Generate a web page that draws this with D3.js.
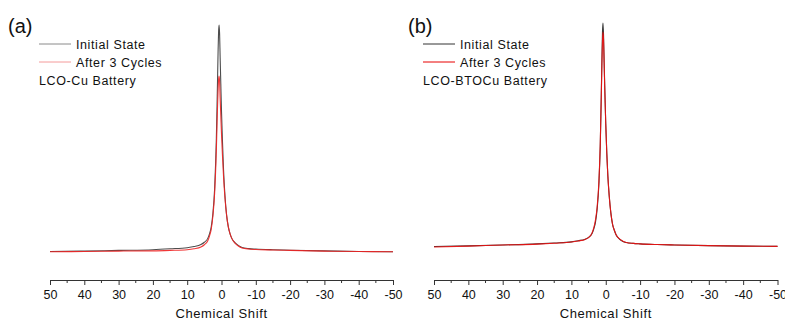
<!DOCTYPE html>
<html>
<head>
<meta charset="utf-8">
<script src="https://cdn.jsdelivr.net/npm/d3@7"></script>
<style>
  body { margin: 0; background: #fff; }
  svg text { font-family: "Liberation Sans", Arial, sans-serif; fill: #111; }
</style>
</head>
<body>
<div id="chart"></div>
<script>
// chemical shift (ppm) sample positions and intensities (arbitrary units, initial peak = 100)
const shiftA = [50, 40, 30, 20, 15, 10, 8, 6, 5, 4, 3.5, 3, 2.5, 2, 1.5, 1.2, 1.0, 0.85, 0.7, 0.55, 0.4, 0.2, 0, -0.3, -0.6, -1, -1.5, -2, -2.5, -3, -4, -5, -6, -8, -10, -15, -20, -30, -40, -50];
const initialA = [0.2, 0.4, 0.7, 1.0, 1.4, 1.9, 2.4, 3.3, 4.3, 6, 8, 11, 17, 28, 50, 72, 88, 97, 100, 96, 86, 74, 62, 48, 36, 25, 16, 11, 8, 6, 4, 2.8, 2.0, 1.5, 1.3, 1.0, 0.8, 0.5, 0.2, 0.1];
const cycledA = [0.1, 0.2, 0.4, 0.5, 0.7, 1.0, 1.4, 2.2, 3.2, 5, 7, 10, 16, 26, 45, 62, 71, 76, 77.5, 75, 68, 60, 52, 42, 33, 24, 16, 11, 8, 6, 3.8, 2.5, 1.8, 1.3, 1.1, 0.9, 0.7, 0.4, 0.2, 0.1];

const shiftB = [50, 40, 30, 20, 15, 10, 8, 6, 5, 4, 3.5, 3, 2.5, 2, 1.6, 1.3, 1.1, 0.95, 0.8, 0.65, 0.5, 0.3, 0, -0.3, -0.6, -1, -1.5, -2, -2.5, -3, -4, -5, -6, -8, -10, -15, -20, -30, -40, -50];
const initialB = [0.2, 0.5, 0.9, 1.4, 1.8, 2.3, 2.8, 3.5, 4.3, 6, 8, 11, 17, 28, 45, 68, 85, 96, 100, 95, 85, 72, 55, 42, 32, 23, 15, 10, 7.5, 5.5, 3.5, 2.5, 2.0, 1.6, 1.4, 1.1, 0.9, 0.6, 0.4, 0.3];
const cycledB = [0.0, 0.4, 0.9, 1.3, 1.7, 2.2, 2.7, 3.4, 4.2, 6.2, 8.5, 12, 18, 29, 46, 67, 83, 92, 96, 93, 84, 71, 55, 42, 32, 23, 15, 10, 7.5, 5.5, 3.6, 2.6, 2.0, 1.6, 1.4, 1.1, 0.9, 0.6, 0.4, 0.3];

const shiftTicks = [50, 40, 30, 20, 10, 0, -10, -20, -30, -40, -50];
const minorTicks = [45, 35, 25, 15, 5, -5, -15, -25, -35, -45];
const seriesNames = ["Initial State", "After 3 Cycles"];

const panels = [
    {tag: "(a)", sample: "LCO-Cu Battery", shift: shiftA, initial: initialA, cycled: cycledA,
     x0: 50, x1: 393, yBase: 252, yTop: 25, tagX: 8,
     legendColors: ["#8a8a8a", "#f49a9a"], lineColors: ["#3a3a3a", "#ee2222"]},
    {tag: "(b)", sample: "LCO-BTOCu Battery", shift: shiftB, initial: initialB, cycled: cycledB,
     x0: 434, x1: 777.5, yBase: 247, yTop: 23, tagX: 408,
     legendColors: ["#333333", "#e80000"], lineColors: ["#222222", "#ee1111"]}
];

const width = 785, height = 320;
const axisY = 280;

const svg = d3.select("#chart").append("svg")
    .attr("width", width)
    .attr("height", height);

panels.forEach((p) => {
    const g = svg.append("g");

    const xScale = d3.scaleLinear().domain([50, -50]).range([p.x0, p.x1]);
    const yScale = d3.scaleLinear().domain([0, 100]).range([p.yBase, p.yTop]);

    // curves: initial first, cycled on top
    const line = d3.line()
        .x((d) => xScale(d[0]))
        .y((d) => yScale(d[1]))
        .curve(d3.curveMonotoneX);

    [p.initial, p.cycled].forEach((vals, i) => {
        g.append("path")
            .datum(p.shift.map((s, k) => [s, vals[k]]))
            .attr("fill", "none")
            .attr("stroke", p.lineColors[i])
            .attr("stroke-width", 1.1)
            .attr("stroke-opacity", 0.9)
            .attr("d", line);
    });

    // x axis, major and minor ticks (plain hyphen for negatives)
    const xAxis = d3.axisBottom(xScale)
        .tickValues(shiftTicks)
        .tickSize(5)
        .tickSizeOuter(0)
        .tickPadding(5)
        .tickFormat((t) => String(t));
    const ax = g.append("g")
        .attr("transform", "translate(0," + axisY + ")")
        .call(xAxis);
    ax.select(".domain").attr("stroke", "#333");
    ax.selectAll(".tick line").attr("stroke", "#333");
    ax.selectAll(".tick text")
        .attr("font-size", "12.5px")
        .attr("font-family", "Liberation Sans, Arial, sans-serif")
        .attr("fill", "#111");

    g.append("g")
        .attr("transform", "translate(0," + axisY + ")")
        .selectAll("line")
        .data(minorTicks)
        .enter()
        .append("line")
        .attr("x1", (d) => xScale(d))
        .attr("x2", (d) => xScale(d))
        .attr("y1", 0)
        .attr("y2", 3)
        .attr("stroke", "#333");

    g.append("text")
        .attr("x", (p.x0 + p.x1) / 2)
        .attr("y", 318)
        .attr("text-anchor", "middle")
        .attr("font-size", "13px")
        .attr("letter-spacing", "0.6px")
        .text("Chemical Shift");

    // panel tag
    g.append("text")
        .attr("x", p.tagX)
        .attr("y", 33)
        .attr("font-size", "20px")
        .text(p.tag);

    // legend
    const lx = p.x0 - 11;
    seriesNames.forEach((name, i) => {
        const ly = 44 + i * 18;
        g.append("line")
            .attr("x1", lx).attr("x2", lx + 32)
            .attr("y1", ly).attr("y2", ly)
            .attr("stroke", p.legendColors[i])
            .attr("stroke-width", 1);
        g.append("text")
            .attr("x", lx + 37)
            .attr("y", ly + 4.5)
            .attr("font-size", "12.5px")
            .attr("letter-spacing", "0.6px")
            .text(name);
    });
    g.append("text")
        .attr("x", lx)
        .attr("y", 84.5)
        .attr("font-size", "12.5px")
        .attr("letter-spacing", "0.6px")
        .text(p.sample);
});
</script>
</body>
</html>
